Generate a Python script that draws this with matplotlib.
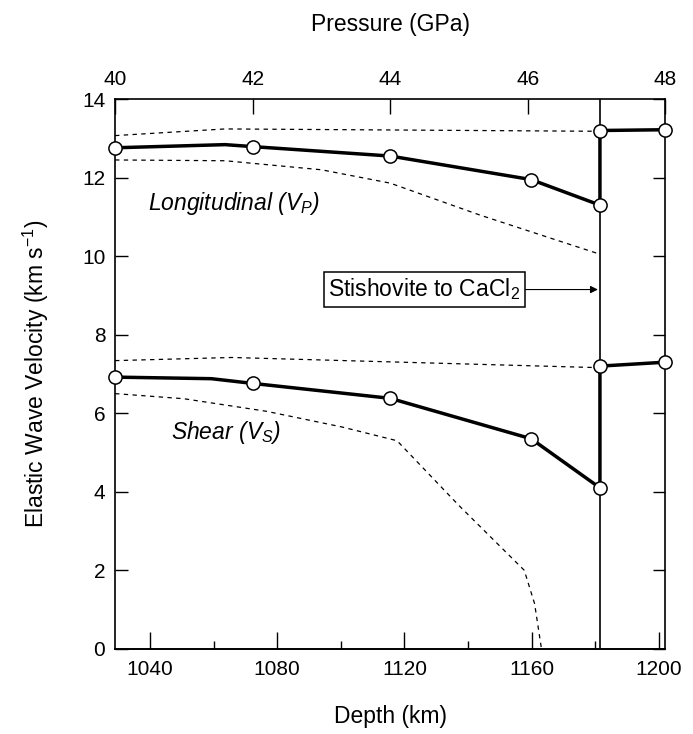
import numpy as np
import matplotlib
matplotlib.use("Agg")
import matplotlib.pyplot as plt

plt.rcParams['font.family'] = ['Liberation Sans', 'DejaVu Sans']
plt.rcParams['mathtext.fontset'] = 'custom'
plt.rcParams['mathtext.rm'] = 'Liberation Sans'
plt.rcParams['mathtext.it'] = 'Liberation Sans:italic'

# Pressure (GPa) <-> depth (km) for the two x scales
DEPTH_0 = 1029.0
KM_PER_GPA = 21.625

# Longitudinal wave velocity, solid curve (markers at the neat pressures)
vp_p = [40.0, 41.6, 42.0, 44.0, 46.05, 47.05, 47.05, 48.0]
vp_v = [12.76, 12.84, 12.79, 12.55, 11.95, 11.3, 13.2, 13.22]
vp_mark = [True, False, True, True, True, True, True, True]

# Shear wave velocity, solid curve
vs_p = [40.0, 41.4, 42.0, 44.0, 46.05, 47.05, 47.05, 48.0]
vs_v = [6.92, 6.88, 6.76, 6.38, 5.35, 4.1, 7.2, 7.3]
vs_mark = [True, False, True, True, True, True, True, True]

# Dashed bounds
vp_up_p = [40.0, 41.6, 47.05]
vp_up_v = [13.07, 13.24, 13.18]
vp_lo_p = [40.0, 41.6, 43.0, 44.0, 45.3, 46.4, 47.05]
vp_lo_v = [12.45, 12.43, 12.2, 11.86, 11.05, 10.42, 10.05]
vs_up_p = [40.0, 41.7, 47.05]
vs_up_v = [7.34, 7.42, 7.16]
vs_lo_p = [40.0, 41.0, 42.2, 43.3, 44.1, 45.0, 45.95, 46.1, 46.2]
vs_lo_v = [6.50, 6.37, 6.05, 5.65, 5.3, 3.65, 2.0, 1.15, 0.0]

# Phase transition (stishovite -> CaCl2 structure)
trans_p = 47.05

pressure_ticks = [40, 42, 44, 46, 48]
depth_major = [1040, 1080, 1120, 1160, 1200]
depth_minor = [1060, 1100, 1140, 1180]
vel_ticks = [0, 2, 4, 6, 8, 10, 12, 14]


def p_to_depth(p):
    return DEPTH_0 + KM_PER_GPA * (np.asarray(p) - 40.0)


def depth_to_p(d):
    return 40.0 + (np.asarray(d) - DEPTH_0) / KM_PER_GPA


fig = plt.figure(figsize=(6.93, 7.34), dpi=100)
ax = fig.add_axes([0.166, 0.116, 0.794, 0.749])

# thin vertical line marking the transition, full height
ax.axvline(trans_p, color='black', lw=1.2)

dash = (0, (3.5, 3.5))
for px, vy in [(vp_up_p, vp_up_v), (vp_lo_p, vp_lo_v),
               (vs_up_p, vs_up_v), (vs_lo_p, vs_lo_v)]:
    ax.plot(px, vy, color='black', lw=0.9, linestyle=dash)

for px, vy, mk in [(vp_p, vp_v, vp_mark), (vs_p, vs_v, vs_mark)]:
    ax.plot(px, vy, color='black', lw=2.5, solid_joinstyle='miter')
    mx = [p for p, m in zip(px, mk) if m]
    my = [v for v, m in zip(vy, mk) if m]
    ax.plot(mx, my, 'o', ms=9.5, mfc='white', mec='black', mew=1.1,
            clip_on=False, zorder=5)

ax.set_xlim(40, 48)
ax.set_ylim(0, 14)

# top axis: pressure
ax.set_xticks(pressure_ticks)
ax.tick_params(axis='x', bottom=False, labelbottom=False, top=True,
               labeltop=True, direction='in', length=11, width=1,
               labelsize=15, pad=7)
ax.xaxis.set_label_position('top')
ax.set_xlabel('Pressure (GPa)', fontsize=16.5, labelpad=28)

ax.set_yticks(vel_ticks)
ax.tick_params(axis='y', left=True, right=True, direction='in', length=9,
               width=1, labelsize=15, pad=7)
ax.set_ylabel('Elastic Wave Velocity (km s$^{\\mathregular{-1}}$)',
              fontsize=16.5, labelpad=22)

# bottom axis: depth
sec = ax.secondary_xaxis('bottom', functions=(p_to_depth, depth_to_p))
sec.set_xticks(depth_major)
sec.set_xticks(depth_minor, minor=True)
sec.tick_params(axis='x', which='major', direction='in', length=12,
                width=1, labelsize=15, pad=8)
sec.tick_params(axis='x', which='minor', direction='in', length=6, width=1)
sec.set_xlabel('Depth (km)', fontsize=16.5, labelpad=19)

for sp in ax.spines.values():
    sp.set_linewidth(1.2)
sec.spines['bottom'].set_linewidth(1.2)

ax.text(40.48, 11.35, 'Longitudinal ($V_P$)',
        fontsize=16.5, style='italic', va='center')
ax.text(40.82, 5.5, 'Shear ($V_S$)',
        fontsize=16.5, style='italic', va='center')

ax.annotate('Stishovite to CaCl$_{\\mathregular{2}}$',
            xy=(trans_p - 0.03, 9.15), xytext=(43.1, 9.15),
            fontsize=16.5, va='center', ha='left',
            bbox=dict(boxstyle='square,pad=0.2', fc='white', ec='black',
                      lw=1.1),
            arrowprops=dict(arrowstyle='-|>', color='black', lw=0.8,
                            mutation_scale=11, shrinkA=0, shrinkB=0))

fig.savefig('out.png', dpi=100)
